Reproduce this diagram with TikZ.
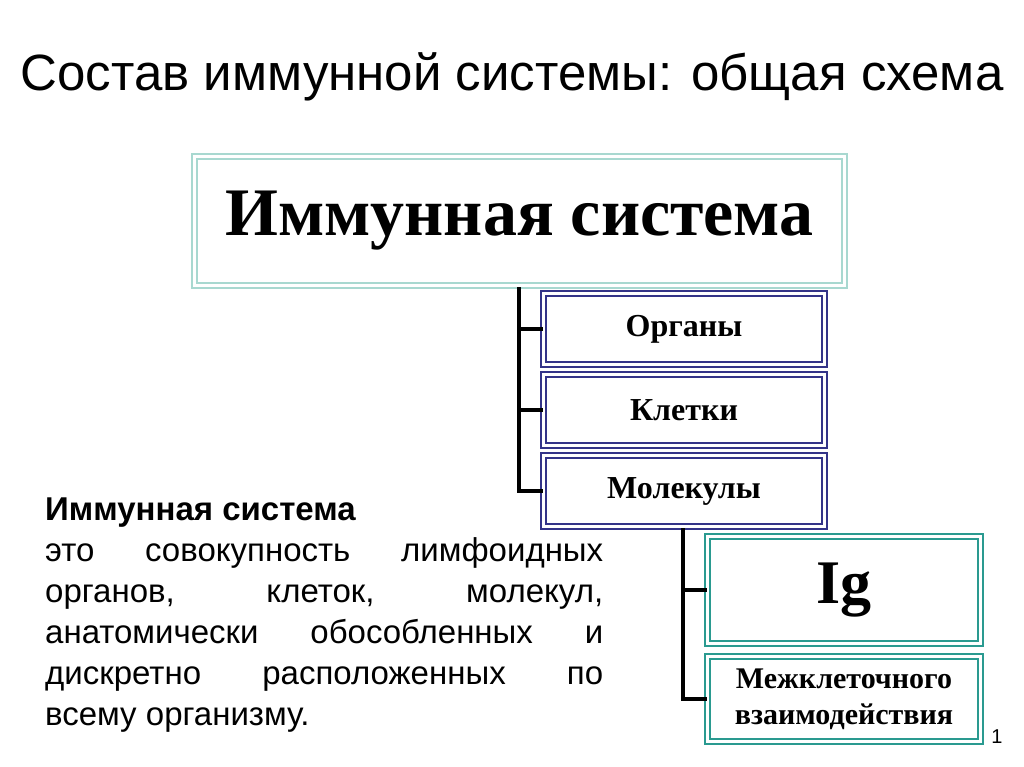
\documentclass[tikz,border=0pt]{standalone}
\usepackage{fontspec}
\setmainfont{Liberation Serif}
\setsansfont{Liberation Sans}
\usepackage{xcolor}
\definecolor{lightteal}{HTML}{A8D8D0}
\definecolor{navyline}{HTML}{333388}
\definecolor{tealline}{HTML}{2A9A90}
\tikzset{
    main-box/.style = {draw=lightteal, double=white, double distance=3pt, line width=2pt, rectangle, minimum width=650pt, minimum height=129pt, font=\bfseries\fontsize{68}{74}\selectfont},
    part-box/.style = {draw=navyline, double=white, double distance=2.5pt, line width=1.8pt, rectangle, minimum width=281pt, minimum height=71pt, font=\bfseries\fontsize{32}{36}\selectfont},
    sub-box/.style = {draw=tealline, double=white, double distance=3pt, line width=2pt, rectangle, minimum width=273pt, align=center},
    tree-line/.style = {line width=4pt, black},
}
\begin{document}
\begin{tikzpicture}[x=1pt, y=-1pt]
\useasboundingbox (0,0) rectangle (1024,767);
\node[font=\sffamily\fontsize{51}{56}\selectfont] (title) at (512,77) {Состав иммунной системы: общая схема};
\node[main-box] (immune) at (519.5,221) {Иммунная система};
% parts
\node[part-box] (organs) at (684,329) {Органы};
\node[part-box] (cells) at (684,410) {Клетки};
\node[part-box] (molecules) at (684,491) {Молекулы};
\node[sub-box, minimum height=107pt, font=\bfseries\fontsize{62}{66}\selectfont] (ig) at (844,590) {Ig};
\node[sub-box, minimum height=85pt, font=\bfseries\fontsize{30}{36}\selectfont] (inter) at (844,699) {Межклеточного\\взаимодействия};
% connectors
\coordinate (trunk) at (519,287);
\coordinate (branch) at (683,528);
\draw[tree-line] (trunk) -- (trunk |- molecules) -- (molecules.west);
\draw[tree-line] (trunk |- organs) -- (organs.west);
\draw[tree-line] (trunk |- cells) -- (cells.west);
\draw[tree-line] (branch) -- (branch |- inter) -- (inter.west);
\draw[tree-line] (branch |- ig) -- (ig.west);
% definition
\node[anchor=north west, text width=558pt, align=justify, inner sep=0pt, font=\sffamily\fontsize{33}{41}\selectfont] (definition) at (45,498)
  {\textbf{Иммунная система}\\ это совокупность лимфоидных\linebreak органов, клеток, молекул,\linebreak анатомически обособленных и\linebreak дискретно расположенных по\linebreak всему организму.};
\node[font=\sffamily\fontsize{20}{24}\selectfont] (page) at (997,737) {1};
\end{tikzpicture}
\end{document}
